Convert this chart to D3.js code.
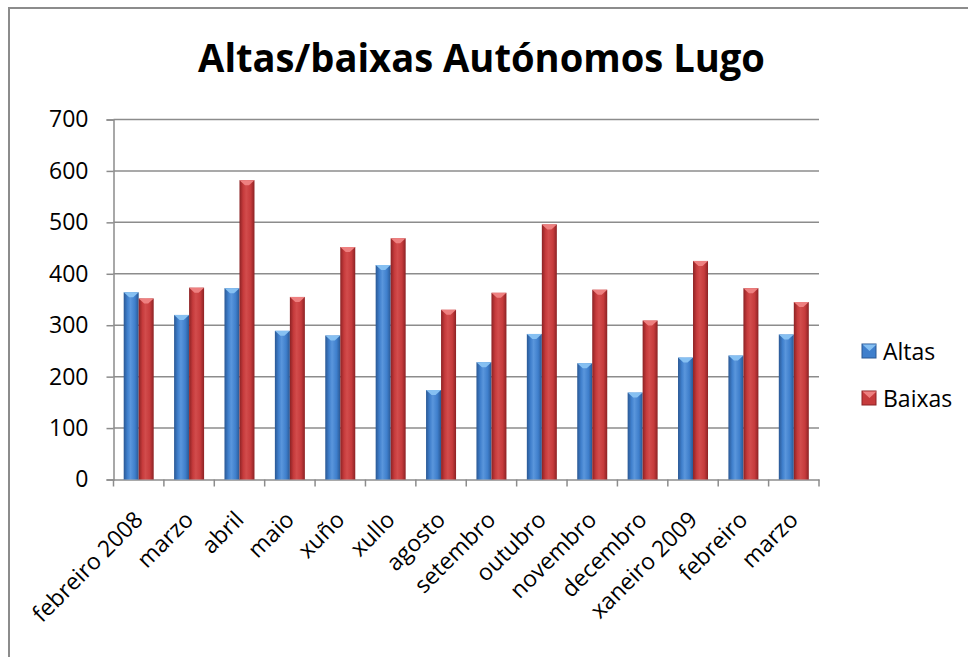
<!DOCTYPE html>
<html>
<head>
<meta charset="utf-8">
<script src="https://cdn.jsdelivr.net/npm/d3@7"></script>
<style>
  body { margin: 0; background: #fff; }
  svg { display: block; font-family: "Open Sans", sans-serif; }
</style>
</head>
<body>
<div id="chart"></div>
<script>
// chart data
const months = ["febreiro 2008", "marzo", "abril", "maio", "xuño", "xullo", "agosto",
  "setembro", "outubro", "novembro", "decembro", "xaneiro 2009", "febreiro", "marzo "];
const altas = [364, 320, 372, 289, 280, 417, 174, 228, 283, 226, 169, 237, 241, 282];
const baixas = [352, 373, 582, 355, 452, 469, 330, 363, 496, 369, 309, 425, 372, 345];
const seriesNames = ["Altas", "Baixas"];
const yTicks = [0, 100, 200, 300, 400, 500, 600, 700];

const W = 968, H = 657;
const margin = {top: 119.5, left: 113.5, right: 149, bottom: 177.5};
const width = W - margin.left - margin.right;
const height = H - margin.top - margin.bottom;

const svg = d3.select("#chart").append("svg")
    .attr("width", W)
    .attr("height", H);

// outer chart frame (runs off the bottom/right edge)
svg.append("rect")
    .attr("x", 9).attr("y", 8)
    .attr("width", W + 20).attr("height", H + 20)
    .attr("fill", "#fff")
    .attr("stroke", "#8c8c8c")
    .attr("stroke-width", 2);

const defs = svg.append("defs");
const palette = {
    Altas: {edge: "#2a5894", mid: "#3f7fcc", light: "#5a96dc", top: "#86c0f2"},
    Baixas: {edge: "#8c2224", mid: "#c63b3c", light: "#d24c4c", top: "#ee8080"}
};
seriesNames.forEach(s => {
    const g = defs.append("linearGradient")
        .attr("id", "grad" + s)
        .attr("x1", "0%").attr("x2", "100%").attr("y1", "0%").attr("y2", "0%");
    g.append("stop").attr("offset", "0%").attr("stop-color", palette[s].edge);
    g.append("stop").attr("offset", "25%").attr("stop-color", palette[s].mid);
    g.append("stop").attr("offset", "45%").attr("stop-color", palette[s].light);
    g.append("stop").attr("offset", "75%").attr("stop-color", palette[s].mid);
    g.append("stop").attr("offset", "100%").attr("stop-color", palette[s].edge);
});

const plot = svg.append("g")
    .attr("transform", "translate(" + margin.left + "," + margin.top + ")");

const xScale = d3.scaleBand().domain(months).range([0, width]).paddingInner(0).paddingOuter(0);
const xSub = d3.scaleBand().domain(seriesNames).range([0, xScale.bandwidth()]).paddingInner(0).paddingOuter(0.68);
const yScale = d3.scaleLinear().domain([0, 700]).range([height, 0]);

// gridlines
plot.append("g")
    .selectAll("line")
    .data(yTicks.filter(d => d > 0))
    .join("line")
    .attr("x1", 0).attr("x2", width)
    .attr("y1", d => yScale(d)).attr("y2", d => yScale(d))
    .attr("stroke", "#8c8c8c")
    .attr("stroke-width", 1.5);

// y axis
const yAxisG = plot.append("g")
    .attr("class", "yAxisG")
    .call(d3.axisLeft(yScale).tickValues(yTicks).tickSize(7).tickPadding(18).tickFormat(d3.format("d")));
yAxisG.select(".domain").attr("stroke", "#8c8c8c").attr("stroke-width", 1.5);
yAxisG.selectAll(".tick line").attr("stroke", "#8c8c8c").attr("stroke-width", 1.5);
yAxisG.selectAll("text")
    .attr("fill", "#000")
    .style("font-size", "23px")
    .style("font-family", "'Open Sans', sans-serif");

// x axis
const xAxisG = plot.append("g")
    .attr("class", "xAxisG")
    .attr("transform", "translate(0," + height + ")")
    .call(d3.axisBottom(xScale).tickSize(0).tickFormat(""));
xAxisG.select(".domain").attr("stroke", "#8c8c8c").attr("stroke-width", 1.5);

// category boundary ticks
plot.append("g")
    .selectAll("line")
    .data(d3.range(months.length + 1))
    .join("line")
    .attr("x1", i => i * xScale.step()).attr("x2", i => i * xScale.step())
    .attr("y1", height).attr("y2", height + 7)
    .attr("stroke", "#8c8c8c")
    .attr("stroke-width", 1.5);

// rotated month labels
plot.append("g")
    .selectAll("text")
    .data(months)
    .join("text")
    .attr("transform", d => "translate(" + (xScale(d) + xScale.bandwidth() / 2) + "," + (height + 36) + ") rotate(-45)")
    .attr("text-anchor", "end")
    .attr("dy", "0.35em")
    .style("font-size", "23px")
    .attr("fill", "#000")
    .text(d => d.trim());

// bars
const rows = months.map((m, i) => ({month: m, Altas: altas[i], Baixas: baixas[i]}));
const groups = plot.selectAll(".barG")
    .data(rows)
    .join("g")
    .attr("class", "barG")
    .attr("transform", d => "translate(" + xScale(d.month) + ",0)");

seriesNames.forEach(s => {
    groups.append("rect")
        .attr("x", xSub(s))
        .attr("y", d => yScale(d[s]))
        .attr("width", xSub.bandwidth())
        .attr("height", d => yScale(0) - yScale(d[s]))
        .attr("fill", "url(#grad" + s + ")");
    // bevel highlight at top
    groups.append("path")
        .attr("d", d => {
            const x0 = xSub(s), x1 = x0 + xSub.bandwidth(), y0 = yScale(d[s]);
            const xm = (x0 + x1) / 2;
            return "M" + x0 + "," + y0 + "L" + x1 + "," + y0 + "L" + (xm + 2) + "," + (y0 + 5) + "L" + (xm - 2) + "," + (y0 + 5) + "Z";
        })
        .attr("fill", palette[s].top);
});

// title (Calibri-like proportions: taller glyphs squeezed to the same width)
const titleG = svg.append("g").attr("transform", "translate(481.5,72)");
const title = titleG.append("text")
    .attr("text-anchor", "middle")
    .style("font-weight", "bold")
    .style("font-size", "39px")
    .attr("fill", "#000")
    .text("Altas/baixas Autónomos Lugo");
const tw = title.node().getComputedTextLength();
title.attr("transform", "scale(" + (567 / tw) + ",1)");

// legend
const legend = svg.append("g")
    .attr("transform", "translate(862,338)");
seriesNames.forEach((s, i) => {
    const lg = legend.append("g").attr("transform", "translate(0," + (i * 47) + ")");
    lg.append("rect")
        .attr("x", 0).attr("y", 6)
        .attr("width", 14).attr("height", 14)
        .attr("fill", palette[s].mid)
        .attr("stroke", palette[s].edge)
        .attr("stroke-width", 1);
    lg.append("path")
        .attr("d", "M0.5,6.5L14.5,6.5L7.5,13Z")
        .attr("fill", palette[s].top);
    lg.append("text")
        .attr("x", 21)
        .attr("y", 22)
        .style("font-size", "23px")
        .attr("fill", "#000")
        .text(s);
});
</script>
</body>
</html>
